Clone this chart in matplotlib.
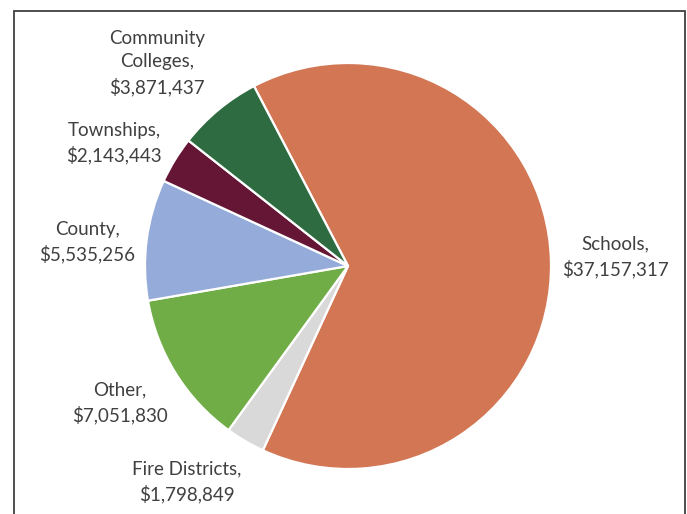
import matplotlib
matplotlib.use("Agg")
import matplotlib.pyplot as plt
from matplotlib.patches import Rectangle

categories = ["Schools", "Fire Districts", "Other", "County", "Townships", "Community\nColleges"]
amounts = [37157317, 1798849, 7051830, 5535256, 2143443, 3871437]
colors = ["#D27654", "#D9D9D9", "#70AD47", "#95ABD9", "#651634", "#2E6B41"]

labels = [f"{c},\n${v:,}" for c, v in zip(categories, amounts)]

# label centres in pixels (from top-left)
label_px = [(615, 257), (187, 482), (120, 403), (87, 242), (114, 143), (157, 63)]

W, H = 687, 514
fig = plt.figure(figsize=(W / 100, H / 100), dpi=100)

# pie centre and radius in pixels
cx, cy, R = 348, 266, 203
ax = fig.add_axes([0, 0, 1, 1])

wedges, texts = ax.pie(
    amounts,
    labels=labels,
    colors=colors,
    startangle=117.6,
    counterclock=False,
    wedgeprops=dict(edgecolor="white", linewidth=1.6),
    textprops=dict(fontsize=13.5, color="#404040", family=["Lato", "DejaVu Sans"],
                   linespacing=1.45),
)
for t, (px, py) in zip(texts, label_px):
    t.set_ha("center")
    t.set_va("center")
    t.set_position(((px - cx) / R, (cy - py) / R))

ax.set_xlim(-cx / R, (W - cx) / R)
ax.set_ylim(-(H - cy) / R, cy / R)
ax.set_aspect("auto")
ax.axis("off")

# chart frame (bottom edge runs off the canvas)
fig.add_artist(Rectangle((14 / W, -0.05), (685 - 14) / W, (H - 11) / H + 0.05,
                         transform=fig.transFigure, fill=False,
                         edgecolor="#404040", linewidth=1.3))

fig.savefig("out.png", dpi=100)
plt.close(fig)
